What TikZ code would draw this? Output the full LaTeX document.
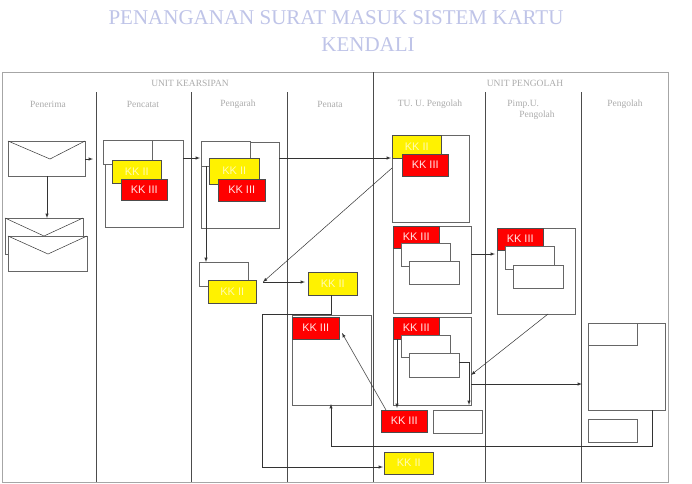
\documentclass[tikz,border=0pt]{standalone}
\usepackage{fontspec}
\newfontfamily\arial{Liberation Sans}
\newfontfamily\tnr{Liberation Serif}
\begin{document}
\begin{tikzpicture}[x=1pt,y=-1pt,
  wbox/.style={draw=gray!80!black,fill=white,line width=0.6pt},
  kkii/.style={draw=gray!60!black,fill=yellow,text=yellow!30,font=\arial\fontsize{11}{12}\selectfont,inner sep=1pt,anchor=north west},
  kkiii/.style={draw=gray!60!black,fill=red,text=white!90!red,font=\arial\fontsize{11}{12}\selectfont,inner sep=1pt,anchor=north west},
  hdr/.style={font=\tnr\fontsize{9.5}{11}\selectfont,text=gray!65},
  ttl/.style={font=\tnr\fontsize{21}{24}\selectfont,text=cyan!30!blue!25},
  ln/.style={draw=black!80,line width=0.5pt},
  arr/.style={ln,-latex}]
\useasboundingbox (0,0) rectangle (692,483);
\fill[white] (0,0) rectangle (692,483);
\node[ttl] (t1) at (336,18) {PENANGANAN SURAT MASUK SISTEM KARTU};
\node[ttl] (t2) at (368,45) {KENDALI};
% frame
\draw[gray!70,line width=0.8pt] (2,72) rectangle (668,482);
\draw[gray!60!black] (373,72) -- (373,482);
\foreach \x in {96,191,287,485,581} \draw[gray!60!black] (\x,92) -- (\x,482);
\node[hdr] (u1) at (190,83) {UNIT KEARSIPAN};
\node[hdr] (u2) at (525,83) {UNIT PENGOLAH};
\node[hdr] (h1) at (48,104) {Penerima};
\node[hdr] (h2) at (143,104) {Pencatat};
\node[hdr] (h3) at (238,104) {Pengarah};
\node[hdr] (h4) at (330,104) {Penata};
\node[hdr] (h5) at (430,104) {TU. U. Pengolah};
\node[hdr,align=left] (h6) at (531,110) {Pimp.U.\\\hspace{12pt}Pengolah};
\node[hdr] (h7) at (625,104) {Pengolah};
% envelopes
\draw[wbox] (8,141) rectangle (85,176); \draw[ln] (8,141) -- (50,159) -- (85,141);
\coordinate (e1b) at (47,176);
\draw[wbox] (5,218) rectangle (83,254); \draw[ln] (5,218) -- (44,236) -- (83,218);
\draw[wbox] (8,236) rectangle (87,271); \draw[ln] (8,236) -- (48,254) -- (87,236);
\coordinate (e2t) at (47,218);
\draw[arr] (e1b) -- (e2t);
\coordinate (e1r) at (85,159); \coordinate (pc) at (93,159);
\draw[arr] (e1r) -- (pc);
% Pencatat
\draw[wbox] (105,140) rectangle (183,227);
\draw[wbox] (103,140) rectangle (152,164);
\node[kkii,minimum width=49pt,minimum height=23pt] (pcii) at (112,160) {KK II};
\node[kkiii,minimum width=46pt,minimum height=21pt] (pciii) at (121,179) {KK III};
\coordinate (pcr) at (183,158); \coordinate (pgl) at (200,158);
\draw[arr] (pcr) -- (pgl);
% Pengarah
\draw[wbox] (201,142) rectangle (279,228);
\draw[wbox] (201,141) rectangle (250,166);
\node[kkii,minimum width=50pt,minimum height=26pt] (pgii) at (209,158) {KK II};
\node[kkiii,minimum width=47pt,minimum height=22pt] (pgiii) at (218,179) {KK III};
\coordinate (pgr) at (279,158); \coordinate (tu1l) at (391,158);
\draw[arr] (pgr) -- (tu1l);
\coordinate (pgd) at (206,166); \coordinate (pgd2) at (206,262);
\draw[arr] (pgd) -- (pgd2);
\draw[wbox] (199,262) rectangle (248,286);
\node[kkii,minimum width=48pt,minimum height=23pt] (pg2ii) at (208,280) {KK II};
\coordinate (pg2r) at (263,282); \coordinate (ptl) at (305,282);
\draw[arr] (pg2r) -- (ptl);
% Penata
\node[kkii,minimum width=49pt,minimum height=23pt] (ptii) at (308,272) {KK II};
\draw[wbox] (292,315) rectangle (371,405);
\node[kkiii,minimum width=47pt,minimum height=22pt] (ptiii) at (292,317) {KK III};
% TU 1
\draw[wbox] (392,135) rectangle (469,222);
\node[kkii,minimum width=49pt,minimum height=23pt] (tuii) at (392,135) {KK II};
\node[kkiii,minimum width=46pt,minimum height=22pt] (tuiii) at (402,154) {KK III};
\coordinate (tu1d) at (392,168);
\draw[arr] (tu1d) -- (pg2r);
% TU 2
\draw[wbox] (393,226) rectangle (471,313);
\node[kkiii,minimum width=46pt,minimum height=22pt] (tu2iii) at (393,226) {KK III};
\draw[wbox] (401,243) rectangle (450,266);
\draw[wbox] (409,261) rectangle (459,284);
\coordinate (tu2r) at (471,254); \coordinate (pml) at (495,254);
\draw[arr] (tu2r) -- (pml);
% Pimp
\draw[wbox] (497,228) rectangle (575,314);
\node[kkiii,minimum width=46pt,minimum height=22pt] (pmiii) at (497,228) {KK III};
\draw[wbox] (505,246) rectangle (554,269);
\draw[wbox] (513,265) rectangle (563,288);
% TU 3
\draw[wbox] (393,317) rectangle (471,405);
\node[kkiii,minimum width=46pt,minimum height=22pt] (tu3iii) at (393,317) {KK III};
\draw[wbox] (401,335) rectangle (450,357);
\draw[wbox] (409,353) rectangle (459,377);
\coordinate (a1) at (397,339); \coordinate (a2) at (397,408);
\draw[arr] (a1) -- (a2);
\coordinate (b1) at (459,362); \coordinate (b2) at (469,405);
\draw[arr] (b1) -| (b2);
\coordinate (pmb) at (548,314); \coordinate (tu3r) at (471,375);
\draw[arr] (pmb) -- (tu3r);
\coordinate (c1) at (471,384); \coordinate (c2) at (582,384);
\draw[arr] (c1) -- (c2);
% bottom
\node[kkiii,minimum width=46pt,minimum height=22pt] (btiii) at (381,410) {KK III};
\draw[wbox] (433,410) rectangle (482,433);
\coordinate (d1) at (386,410); \coordinate (d2) at (342,333);
\draw[arr] (d1) -- (d2);
\node[kkii,minimum width=49pt,minimum height=22pt] (btii) at (384,452) {KK II};
% Pengolah
\draw[wbox] (588,323) rectangle (665,410);
\draw[wbox] (588,323) rectangle (637,345);
\draw[wbox] (588,419) rectangle (637,442);
\coordinate (f1) at (652,410); \coordinate (f2) at (331,404);
\draw[arr] (f1) -- (652,446) -| (f2);
\coordinate (g1) at (331,295); \coordinate (g2) at (383,467);
\draw[arr] (g1) -- (331,314) -- (262,314) |- (g2);
\end{tikzpicture}
\end{document}
